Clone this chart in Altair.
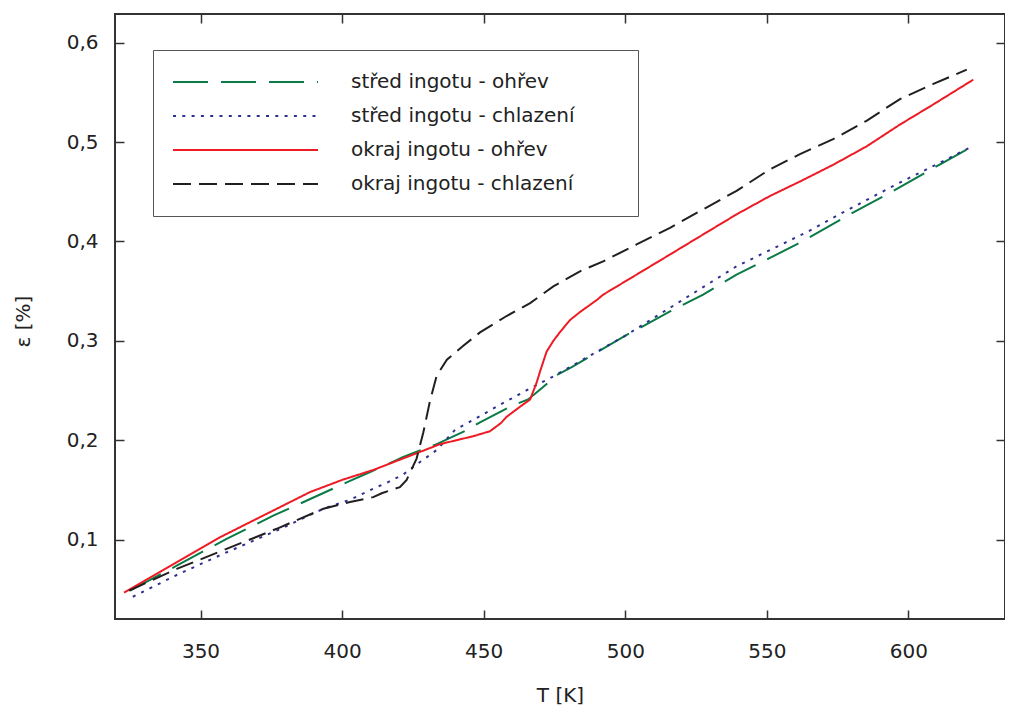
import altair as alt
import pandas as pd

SERIES = ["střed ingotu - ohřev", "střed ingotu - chlazení",
          "okraj ingotu - ohřev", "okraj ingotu - chlazení"]
COLORS = ["#0b7a46", "#2e3192", "#ed1c24", "#231f20"]
DASHES = [[35, 13], [3, 6.3], [1, 0], [18, 8]]

X_TICKS = [350, 400, 450, 500, 550, 600]
Y_TICKS = [0.1, 0.2, 0.3, 0.4, 0.5, 0.6]

# střed ingotu - ohřev (green, long dashes)
T_STRED_OHREV = [325.1, 341.6, 359.2, 375.7, 393.4, 402.8, 409.9, 415.1, 421.6, 433.4,
                 444.0, 448.7, 460.5, 465.7, 471.0, 475.8, 481.1, 492.2, 500.5, 504.0,
                 515.8, 527.5, 539.3, 551.1, 560.5, 565.8, 578.2, 594.6, 612.3, 623.5]
E_STRED_OHREV = [0.0485, 0.0737, 0.1007, 0.1240, 0.1468, 0.1590, 0.1680, 0.1745, 0.1831, 0.1960,
                 0.2100, 0.2180, 0.2353, 0.2410, 0.2535, 0.2655, 0.2735, 0.2922, 0.3060, 0.3111,
                 0.3296, 0.3465, 0.3667, 0.3835, 0.3970, 0.4054, 0.4256, 0.4508, 0.4795, 0.4970]

# střed ingotu - chlazení (blue, dotted)
T_STRED_CHLAZ = [326.1, 341.6, 358.0, 376.9, 393.4, 402.8, 412.2, 415.5, 421.6, 427.5,
                 433.4, 439.9, 446.3, 455.8, 465.2, 474.6, 487.5, 500.5, 510.0, 539.3,
                 564.1, 577.1, 595.8, 612.3, 621.7]
E_STRED_CHLAZ = [0.0424, 0.0643, 0.0856, 0.1090, 0.1310, 0.1400, 0.1528, 0.1567, 0.1655, 0.1780,
                 0.1900, 0.2105, 0.2204, 0.2357, 0.2503, 0.2642, 0.2850, 0.3060, 0.3230, 0.3750,
                 0.4094, 0.4296, 0.4576, 0.4810, 0.4946]

# okraj ingotu - ohřev (red, solid)
T_OKRAJ_OHREV = [323.0, 330.0, 341.6, 356.9, 371.0, 388.7, 400.0, 411.0, 422.8, 434.6,
                 446.3, 452.2, 456.0, 458.1, 462.8, 466.4, 468.7, 470.0, 472.2, 474.6,
                 477.0, 480.5, 484.0, 489.9, 492.2, 504.0, 515.8, 527.5, 539.3, 551.1,
                 561.7, 573.4, 585.2, 597.0, 608.8, 622.9]
E_OKRAJ_OHREV = [0.0465, 0.0580, 0.0771, 0.1023, 0.1225, 0.1478, 0.1600, 0.1700, 0.1830, 0.1960,
                 0.2040, 0.2090, 0.2170, 0.2235, 0.2336, 0.2410, 0.2580, 0.2700, 0.2890, 0.3000,
                 0.3090, 0.3210, 0.3290, 0.3410, 0.3465, 0.3667, 0.3869, 0.4071, 0.4273, 0.4458,
                 0.4604, 0.4772, 0.4957, 0.5177, 0.5380, 0.5629]

# okraj ingotu - chlazení (black, dashed)
T_OKRAJ_CHLAZ = [324.8, 341.6, 359.2, 376.9, 393.4, 402.8, 411.0, 414.0, 420.4, 422.8,
                 426.3, 428.7, 431.0, 433.4, 437.0, 442.8, 448.7, 458.1, 466.4, 474.6,
                 484.0, 492.2, 504.0, 515.8, 527.5, 539.3, 551.1, 561.7, 573.4, 585.2,
                 597.0, 608.8, 620.6]
E_OKRAJ_CHLAZ = [0.0485, 0.0704, 0.0906, 0.1108, 0.1310, 0.1377, 0.1427, 0.1466, 0.1528, 0.1600,
                 0.1815, 0.2080, 0.2390, 0.2650, 0.2810, 0.2950, 0.3085, 0.3250, 0.3380, 0.3548,
                 0.3700, 0.3800, 0.3970, 0.4138, 0.4323, 0.4510, 0.4727, 0.4879, 0.5030, 0.5215,
                 0.5434, 0.5586, 0.5730]

rows = []
for name, ts, es in [
    (SERIES[0], T_STRED_OHREV, E_STRED_OHREV),
    (SERIES[1], T_STRED_CHLAZ, E_STRED_CHLAZ),
    (SERIES[2], T_OKRAJ_OHREV, E_OKRAJ_OHREV),
    (SERIES[3], T_OKRAJ_CHLAZ, E_OKRAJ_CHLAZ),
]:
    for i, (t, e) in enumerate(zip(ts, es)):
        rows.append({"serie": name, "T": t, "eps": e, "order": i})
df = pd.DataFrame(rows)

FONT = "DejaVu Sans"
TXT = "#222222"
W, H = 890, 605

xscale = alt.Scale(domain=[319.8, 634.1], nice=False, zero=False)
yscale = alt.Scale(domain=[0.02, 0.629], nice=False, zero=False)

legend = alt.Legend(
    orient="none", legendX=38, legendY=36, title=None,
    symbolType="stroke", symbolSize=21025, symbolStrokeWidth=2,
    labelFont=FONT, labelFontSize=20, labelColor=TXT, labelLimit=600,
    labelOffset=32, padding=19, rowPadding=8, clipHeight=26,
    strokeColor="#555555", fillColor="white",
    labelExpr="datum.label + '\u2800\u2800\u2800'",
)

lines = alt.Chart(df).mark_line(strokeWidth=2).encode(
    x=alt.X("T:Q", scale=xscale, axis=alt.Axis(
        values=X_TICKS, ticks=False, domain=False, grid=False, format="d",
        labelFont=FONT, labelFontSize=20, labelColor=TXT, labelPadding=22,
        title="T [K]", titleFont=FONT, titleFontSize=20, titleFontWeight="normal",
        titleColor=TXT, titlePadding=24)),
    y=alt.Y("eps:Q", scale=yscale, axis=alt.Axis(
        values=Y_TICKS, ticks=False, domain=False, grid=False,
        labelExpr="replace(format(datum.value, '.1f'), '.', ',')",
        labelFont=FONT, labelFontSize=20, labelColor=TXT, labelPadding=17,
        title="ε [%]", titleFont=FONT, titleFontSize=20, titleFontWeight="normal",
        titleColor=TXT, titlePadding=33, titleY=307)),
    color=alt.Color("serie:N", scale=alt.Scale(domain=SERIES, range=COLORS), legend=legend),
    strokeDash=alt.StrokeDash("serie:N", scale=alt.Scale(domain=SERIES, range=DASHES), legend=legend),
    order="order:Q",
)

tick_common = dict(labels=False, domain=False, grid=False, ticks=True,
                   tickSize=9, tickWidth=1.5, tickColor="#333333", title=None)

ticks_a = alt.Chart(df).mark_point(opacity=0).encode(
    x=alt.X("T:Q", scale=xscale, axis=alt.Axis(orient="top", offset=-H, values=X_TICKS, **tick_common)),
    y=alt.Y("eps:Q", scale=yscale, axis=alt.Axis(orient="right", offset=-W, values=Y_TICKS, **tick_common)),
)
ticks_b = alt.Chart(df).mark_point(opacity=0).encode(
    x=alt.X("T:Q", scale=xscale, axis=alt.Axis(orient="bottom", offset=-H, values=X_TICKS, **tick_common)),
    y=alt.Y("eps:Q", scale=yscale, axis=alt.Axis(orient="left", offset=-W, values=Y_TICKS, **tick_common)),
)

chart = alt.layer(lines, ticks_a, ticks_b).resolve_axis(
    x="independent", y="independent"
).properties(
    width=W, height=H,
    autosize=alt.AutoSizeParams(type="none"),
    padding={"left": 107, "top": 6, "right": 0, "bottom": 90},
    background="white",
).configure_view(stroke="#333333", strokeWidth=2)

chart.save("out.html", embed_options={"renderer": "svg", "actions": False})
